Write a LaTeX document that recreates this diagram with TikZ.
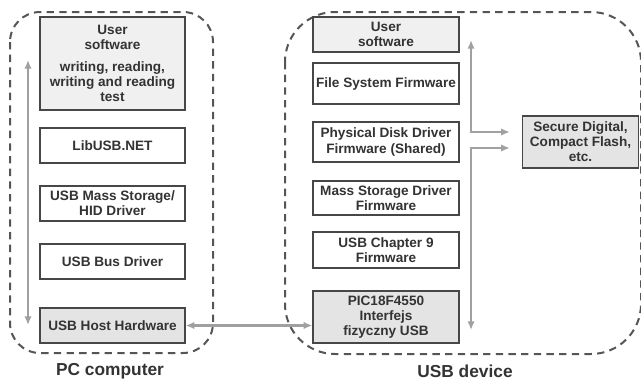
\documentclass[tikz,border=0pt]{standalone}
\usepackage{fontspec}
\setmainfont{Liberation Sans}
\usetikzlibrary{positioning, arrows.meta, calc}
\definecolor{softgray}{HTML}{F0F0F0}
\definecolor{hwgray}{HTML}{E4E4E4}
\definecolor{arrowgray}{HTML}{A0A0A0}
\definecolor{dashgray}{HTML}{555555}
\definecolor{edgegray}{HTML}{474747}
\definecolor{textgray}{HTML}{333333}
\def\px{0.75pt}
\def\boxfont{\bfseries\fontsize{10.2}{11.3}\selectfont}
\def\captionfont{\bfseries\fontsize{13}{15}\selectfont}

\begin{document}
\begin{tikzpicture}[x=0.75pt, y=-0.75pt,
    layer/.style={draw=edgegray, line width=1pt, text=textgray, font=\boxfont,
        align=center, inner sep=0pt},
    container/.style={draw=dashgray, line width=1.5pt, dash pattern=on 5.5pt off 4pt},
    biarrow/.style={draw=arrowgray, line width=1.6pt,
        {Latex[length=6.5pt,width=5.5pt]}-{Latex[length=6.5pt,width=5.5pt]}},
    caption/.style={font=\captionfont, text=textgray}]
    \useasboundingbox (0,0) rectangle (641,379);

    % dashed containers
    \draw[container, rounded corners=30*\px] (10,12) rectangle (213,353);
    \draw[container, rounded corners=50*\px] (285,12) rectangle (641,354);

    % PC side layers
    \foreach \name/\y/\h/\shade/\txt in {
        lsoft/63.5/93/softgray/{User\\software\\[5pt]writing, reading,\\writing and reading\\test},
        llib/145.5/35/white/{LibUSB.NET},
        lmass/203.5/35/white/{USB Mass Storage/\\HID Driver},
        lbus/261.5/35/white/{USB Bus Driver},
        lhost/325.5/35/hwgray/{USB Host Hardware}}{

        \node[layer, fill=\shade, minimum width=145*\px, minimum height=\h*\px]
            (\name) at (112.5,\y) {\txt};
    }

    % device side layers
    \foreach \name/\y/\h/\shade/\txt in {
        rsoft/34.5/35/softgray/{User\\software},
        rfile/83.5/41/white/{File System Firmware},
        rdisk/142/40/white/{Physical Disk Driver\\Firmware (Shared)},
        rmass/198/34/white/{Mass Storage Driver\\Firmware},
        rch9/250/36/white/{USB Chapter 9\\Firmware},
        rpic/317/52/hwgray/{PIC18F4550\\Interfejs\\fizyczny USB}}{

        \node[layer, fill=\shade, minimum width=146*\px, minimum height=\h*\px]
            (\name) at (386,\y) {\txt};
    }

    \node[layer, fill=hwgray, minimum width=116*\px, minimum height=52*\px]
        (sd) at (580.5,142) {Secure Digital,\\Compact Flash,\\etc.};

    % arrows
    \coordinate (ltop) at (28,60);
    \coordinate (lbot) at (28,325);
    \coordinate (rtop) at (471,40);
    \coordinate (rbot) at (471,330);

    \draw[biarrow] (ltop) -- (lbot);
    \draw[biarrow] (lhost.east) -- (lhost.east -| rpic.west);
    \draw[biarrow] (rtop) |- ($(sd.west)+(-12,-10)$);
    \draw[biarrow] (rbot) |- ($(sd.west)+(-12,6)$);

    % captions
    \node[caption] (pclabel) at (110,371) {PC computer};
    \node[caption] (devlabel) at (465,371) {USB device};
\end{tikzpicture}
\end{document}
